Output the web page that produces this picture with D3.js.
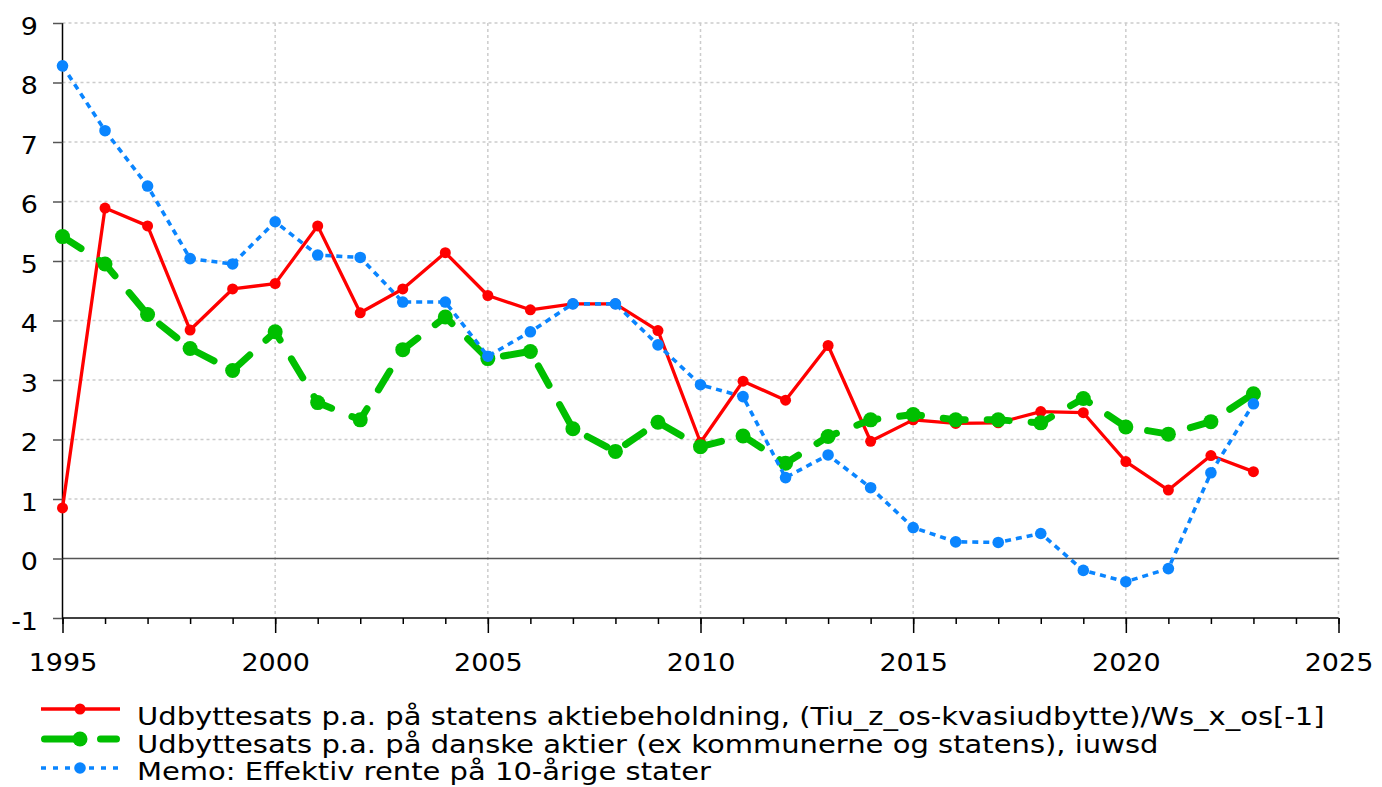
<!DOCTYPE html>
<html>
<head>
<meta charset="utf-8">
<script src="https://cdn.jsdelivr.net/npm/d3@7"></script>
<style>
  body { margin: 0; background: #fff; }
  svg { display: block; font-family: "DejaVu Sans", Verdana, sans-serif; }
</style>
</head>
<body>
<svg id="chart" width="1382" height="787"></svg>
<script>
// data
const years = d3.range(1995, 2024);
const statensUdbytte = [0.85, 5.89, 5.59, 3.84, 4.53, 4.62, 5.59, 4.13, 4.53, 5.14,
  4.42, 4.18, 4.28, 4.28, 3.83, 1.95, 2.98, 2.66, 3.58, 1.97,
  2.33, 2.27, 2.28, 2.47, 2.45, 1.63, 1.15, 1.73, 1.46];
const danskeAktier = [5.41, 4.95, 4.10, 3.53, 3.16, 3.81, 2.62, 2.33, 3.51, 4.06,
  3.36, 3.48, 2.18, 1.80, 2.29, 1.88, 2.06, 1.60, 2.05, 2.33,
  2.42, 2.33, 2.33, 2.28, 2.69, 2.21, 2.09, 2.30, 2.77];
const rente10 = [8.28, 7.19, 6.26, 5.04, 4.95, 5.66, 5.10, 5.06, 4.31, 4.31,
  3.40, 3.81, 4.28, 4.28, 3.59, 2.92, 2.72, 1.36, 1.74, 1.19,
  0.52, 0.28, 0.27, 0.42, -0.20, -0.39, -0.17, 1.44, 2.60];
const yTicks = d3.range(-1, 10);
const xMajor = [1995, 2000, 2005, 2010, 2015, 2020, 2025];
const legendLabels = [
  "Udbyttesats p.a. på statens aktiebeholdning, (Tiu_z_os-kvasiudbytte)/Ws_x_os[-1]",
  "Udbyttesats p.a. på danske aktier (ex kommunerne og statens), iuwsd",
  "Memo: Effektiv rente på 10-årige stater"
];

const series = [
  { values: statensUdbytte, color: "#ff0000", width: 3.3, dash: null, cap: "butt", r: 5.5 },
  { values: danskeAktier, color: "#00bf00", width: 7, dash: "22,22", cap: "round", r: 7.5 },
  { values: rente10, color: "#0a85ff", width: 3.6, dash: "6,5", cap: "butt", r: 5.8 }
];

const svg = d3.select("#chart");
const plotLeft = 62.5, plotRight = 1338.5, plotTop = 23, plotBottom = 618;
const fontSize = 24.5, stretch = 1.1;

const x = d3.scaleLinear().domain([1995, 2025]).range([plotLeft, plotRight]);
const y = d3.scaleLinear().domain([-1, 9]).range([plotBottom, plotTop]);

// grid
const grid = svg.append("g");
grid.selectAll(".hg").data(yTicks.filter(d => d > -1 && d !== 0)).enter()
  .append("line")
  .attr("x1", plotLeft).attr("x2", plotRight)
  .attr("y1", d => y(d)).attr("y2", d => y(d))
  .attr("stroke", "#cccccc").attr("stroke-width", 1.5).attr("stroke-dasharray", "3,3");
grid.selectAll(".vg").data(xMajor.slice(1)).enter()
  .append("line")
  .attr("x1", d => x(d)).attr("x2", d => x(d))
  .attr("y1", plotTop).attr("y2", plotBottom)
  .attr("stroke", "#cccccc").attr("stroke-width", 1.5).attr("stroke-dasharray", "3,3");

// zero line
svg.append("line")
  .attr("x1", plotLeft).attr("x2", plotRight)
  .attr("y1", y(0)).attr("y2", y(0))
  .attr("stroke", "#555").attr("stroke-width", 1.5);

// axes
const yAxis = d3.axisLeft(y).tickValues(yTicks).tickSize(9.5).tickPadding(15).tickFormat(d => String(d));
const gy = svg.append("g").attr("transform", `translate(${plotLeft},0)`).call(yAxis);
gy.select(".domain").attr("stroke", "#000").attr("stroke-width", 1.5).attr("d", `M0,${plotTop}V${plotBottom}`);
gy.selectAll(".tick line").attr("stroke", "#555").attr("stroke-width", 1.5);
gy.selectAll(".tick text").attr("font-size", fontSize).attr("fill", "#000")
  .attr("font-family", "DejaVu Sans, Verdana, sans-serif")
  .attr("x", -24.5 / stretch).attr("dy", "0.46em")
  .attr("transform", `scale(${stretch},1)`);

const xMinor = d3.axisBottom(x).tickValues(d3.range(1995, 2026)).tickSize(6).tickFormat("");
const gxm = svg.append("g").attr("transform", `translate(0,${plotBottom})`).call(xMinor);
gxm.select(".domain").attr("stroke", "#000").attr("stroke-width", 1.5).attr("d", `M${plotLeft},0H${plotRight}`);
gxm.selectAll(".tick line").attr("stroke", "#000").attr("stroke-width", 1.5);

const xAxis = d3.axisBottom(x).tickValues(xMajor).tickSize(15).tickPadding(21).tickFormat(d => String(d));
const gx = svg.append("g").attr("transform", `translate(0,${plotBottom})`).call(xAxis);
gx.select(".domain").remove();
gx.selectAll(".tick line").attr("stroke", "#000").attr("stroke-width", 1.5);
gx.selectAll(".tick text").attr("font-size", fontSize).attr("fill", "#000")
  .attr("font-family", "DejaVu Sans, Verdana, sans-serif")
  .attr("transform", `scale(${stretch},1)`);

// lines + markers
const line = d3.line().x((d, i) => x(years[i])).y(d => y(d));
series.forEach(s => {
  svg.append("path")
    .attr("d", line(s.values))
    .attr("fill", "none")
    .attr("stroke", s.color)
    .attr("stroke-width", s.width)
    .attr("stroke-linecap", s.cap)
    .attr("stroke-linejoin", "round")
    .attr("stroke-dasharray", s.dash);
  svg.append("g").selectAll("circle").data(s.values).enter()
    .append("circle")
    .attr("cx", (d, i) => x(years[i]))
    .attr("cy", d => y(d))
    .attr("r", s.r)
    .attr("fill", s.color);
});

// legend
const legend = svg.append("g");
const rowY = [709, 739, 768];
const textY = [725, 753, 780];
const sample = [
  { x1: 41, x2: 120, dash: null },
  { x1: 44.5, x2: 116.5, dash: "36,20" },
  { x1: 41, x2: 120, dash: "5,7" }
];
const texts = [];
series.forEach((s, i) => {
  const g = legend.append("g");
  g.append("line")
    .attr("x1", sample[i].x1).attr("x2", sample[i].x2).attr("y1", rowY[i]).attr("y2", rowY[i])
    .attr("stroke", s.color).attr("stroke-width", s.width)
    .attr("stroke-linecap", s.cap)
    .attr("stroke-dasharray", sample[i].dash);
  g.append("circle").attr("cx", 80).attr("cy", rowY[i]).attr("r", s.r).attr("fill", s.color);
  texts.push(g.append("text")
    .attr("y", textY[i])
    .attr("font-size", fontSize)
    .attr("fill", "#000")
    .text(legendLabels[i]));
});
// stretch legend text so the first row ends where the reference does
const k = (1325 - 137) / texts[0].node().getComputedTextLength();
texts.forEach(t => t.attr("x", 137 / k).attr("transform", `scale(${k},1)`));
</script>
</body>
</html>
